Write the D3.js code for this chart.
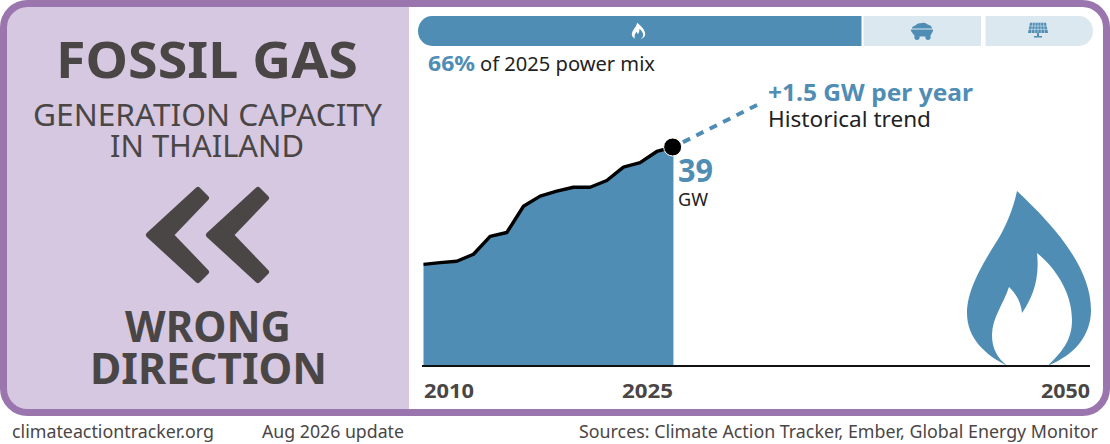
<!DOCTYPE html>
<html><head><meta charset="utf-8">
<script src="https://cdn.jsdelivr.net/npm/d3@7"></script>
<style>html,body{margin:0;padding:0;background:#fff}svg{display:block}text{font-family:"Noto Sans","Open Sans",sans-serif}</style>
</head><body><svg id="c" width="1110" height="444"></svg>
<script>
const years=[2010,2011,2012,2013,2014,2015,2016,2017,2018,2019,2020,2021,2022,2023,2024,2025];
const capacityGW=[18.2,18.5,18.75,20,23.2,23.9,28.6,30.4,31.3,32,32,33.2,35.6,36.4,38.4,39.2];
const trendPerYear=1.5;
const trendEndYear=2030.2;
const tickYears=[2010,2025,2050];
const mixNames=["gas","coal","solar"];
const mixShares=[66,18,16];
const BLUE="#4f8db5",LIGHT="#dce8f0",PURPLE="#9b75ae",PANEL="#d6c8e0",DARK="#4a4646";

const svg=d3.select("#c");
const x=d3.scaleLinear().domain([2010,2050]).range([423.5,1090]);
const y=d3.scaleLinear().domain([0,39.2]).range([366,147]);
const mix=d3.scaleLinear().domain([0,100]).range([418,1093]);

function T(str,x0,x1,base,size,weight,fill){
  const t=svg.append("text").attr("x",x0).attr("y",base).attr("font-size",size)
    .attr("font-weight",weight).attr("fill",fill).text(str);
  t.attr("textLength",x1-x0).attr("lengthAdjust","spacingAndGlyphs");
  return t;
}

// panel and frame
svg.append("path").attr("d","M409,3H24A21,21 0 0 0 3,24V392A21,21 0 0 0 24,413H409Z").attr("fill",PANEL);
svg.append("rect").attr("x",3.5).attr("y",3.5).attr("width",1103).attr("height",409).attr("rx",24)
  .attr("fill","none").attr("stroke",PURPLE).attr("stroke-width",7);

// left panel text
T("FOSSIL GAS",56,358,78,50,700,DARK);
T("GENERATION CAPACITY",33,382,126,31,400,DARK);
T("IN THAILAND",110,304,157,31,400,DARK);
T("WRONG",125,291,342,43,700,DARK);
T("DIRECTION",90,327,384,43,700,DARK);

// chevrons
[0,60].forEach(dx=>{
  svg.append("path").attr("transform",`translate(${dx},0)`)
    .attr("d","M149,235 L198,190 L206,198 L170.5,235 L206,272 L198,280Z")
    .attr("fill",DARK).attr("stroke",DARK).attr("stroke-width",6)
    .attr("stroke-linejoin","round");
});

// mix bar
let acc=0;
mixShares.forEach((v,i)=>{
  const a=mix(acc)+(i===2?0.5:0),b=mix(acc+v)-(i===0?2:i===1?4:0);acc+=v;
  const r=14,t=16,bt=46;
  let d;
  if(i===0)d=`M${a+r},${t}H${b}V${bt}H${a+r}A${r},${r+1} 0 0 1 ${a+r},${t}Z`;
  else if(i===2)d=`M${a},${t}H${b-r}A${r},${r+1} 0 0 1 ${b-r},${bt}H${a}Z`;
  else d=`M${a},${t}H${b}V${bt}H${a}Z`;
  svg.append("path").attr("class","mix-"+mixNames[i]).attr("d",d).attr("fill",i===0?BLUE:LIGHT);
});

// flame shape, used large and small
const flame="M1017,191 C1013,210 1006,225 1000,236 C990,253 967,285 967,313 C967,338 985,355 1007,365.5 C997,358 992,348 992,335 C992,318 1003,305 1009,287 C1014,292 1021,300 1022,313 C1032,298 1040,280 1037,253 C1058,270 1072,295 1072,320 C1072,340 1062,352 1048,365.5 C1075,355 1091,335 1091,310 C1091,265 1050,222 1017,191Z";

// small icons
svg.append("path").attr("transform","translate(638.5,31) scale(0.108,0.095) translate(-1029,-278)").attr("d",flame).attr("fill","#fff");
const coal=svg.append("g").attr("transform","translate(922,32)").attr("fill",BLUE);
coal.append("path").attr("d","M-10,-3.5 C-10,-6 -7,-6 -6,-7 C-4,-9.5 -1,-8.5 1,-9.3 C4,-9.5 5,-7.5 7,-7 C9,-6.5 10,-5 10,-3.5Z");
coal.append("path").attr("d","M-11,-2.5H11V-1L8,4.5H-7L-11,-1Z");
coal.append("circle").attr("cx",-5).attr("cy",5.3).attr("r",2.6);
coal.append("circle").attr("cx",6).attr("cy",5.3).attr("r",2.6);
const solar=svg.append("g").attr("transform","translate(1038,31)");
solar.append("path").attr("d","M-8,-8.3H8L10,2H-10Z").attr("fill",BLUE);
solar.append("path").attr("d","M-1,2H1V5H4V6.5H-4V5H-1Z").attr("fill",BLUE);
[-5,-1.6].forEach(yy=>solar.append("line").attr("x1",-10).attr("x2",10).attr("y1",yy).attr("y2",yy).attr("stroke",LIGHT).attr("stroke-width",.6));
[-5.4,-2.7,0,2.7,5.4].forEach(xx=>solar.append("line").attr("x1",xx).attr("x2",xx*1.22).attr("y1",-8.3).attr("y2",2).attr("stroke",LIGHT).attr("stroke-width",.6));

// mix caption
T("66%",428,475,70.5,22,700,BLUE);
T("of 2025 power mix",480,655,70.5,20.5,400,"#222");

// area + line
const pts=years.map((yr,i)=>({yr,v:capacityGW[i]}));
svg.append("path").datum(pts).attr("fill",BLUE)
  .attr("d",d3.area().x(d=>x(d.yr)).y0(y(0)).y1(d=>y(d.v)));
svg.append("path").datum(pts).attr("fill","none").attr("stroke","#000").attr("stroke-width",3.4)
  .attr("stroke-linejoin","round")
  .attr("d",d3.line().x(d=>x(d.yr)).y(d=>y(d.v)));

// trend
const last=pts[pts.length-1];
svg.append("line").attr("x1",x(last.yr)).attr("y1",y(last.v))
  .attr("x2",x(trendEndYear)).attr("y2",y(last.v+trendPerYear*(trendEndYear-last.yr)))
  .attr("stroke",BLUE).attr("stroke-width",4).attr("stroke-dasharray","8 7").attr("stroke-dashoffset",4.4);
svg.append("circle").attr("cx",x(last.yr)-0.8).attr("cy",y(last.v)).attr("r",9)
  .attr("fill","#000").attr("stroke","#fff").attr("stroke-width",1);

// baseline and ticks
svg.append("line").attr("x1",422).attr("x2",1090).attr("y1",y(0)).attr("y2",y(0)).attr("stroke","#111").attr("stroke-width",2);
const tickExt={2010:[424,474],2025:[622,673],2050:[1041,1090]};
tickYears.forEach(t=>T(String(t),tickExt[t][0],tickExt[t][1],398,20,700,DARK));

// labels
T("39",678,713,182,32,700,BLUE);
T("GW",678,708,206,18.5,400,"#222");
T("+1.5 GW per year",768,973,101,24,700,BLUE);
T("Historical trend",768,931,127,22,400,"#222");

// big flame
svg.append("path").attr("fill",BLUE).attr("d",flame);

// footer
T("climateactiontracker.org",12,214,438,18,400,DARK);
T("Aug 2026 update",262,404,438,18,400,DARK);
T("Sources: Climate Action Tracker, Ember, Global Energy Monitor",579,1098,438,18,400,DARK);
</script></body></html>
